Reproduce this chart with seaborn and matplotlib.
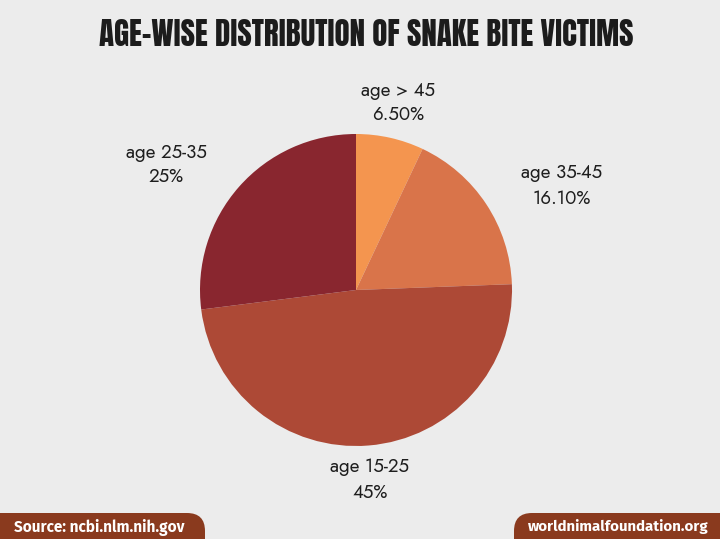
import matplotlib
matplotlib.use("Agg")
import matplotlib.pyplot as plt
from matplotlib.patches import FancyBboxPatch
import seaborn as sns

# data
age_groups = ["age > 45", "age 35-45", "age 15-25", "age 25-35"]
shares = [6.5, 16.1, 45.0, 25.0]
share_labels = ["6.50%", "16.10%", "45%", "25%"]
slice_colors = ["#f4954f", "#d9744a", "#ad4936", "#89262f"]

sns.set_theme(style="white")
plt.rcParams["font.family"] = ["Jost", "Poppins", "DejaVu Sans"]

W, H = 720, 539
fig = plt.figure(figsize=(7.2, 5.39), dpi=100)
fig.patch.set_facecolor("#ececec")
ax = fig.add_axes([0, 0, 1, 1])

# pie, clockwise from 12 o'clock (shares get normalised, as in the original)
ax.pie(shares, colors=slice_colors, startangle=90, counterclock=False,
       center=(356, H - 290), radius=156, frame=True,
       wedgeprops=dict(linewidth=0))
ax.set_xlim(0, W)
ax.set_ylim(0, H)
ax.set_aspect("equal")
ax.axis("off")

# slice labels (y measured from the top of the picture)
label_pos = [(398, 90), (562, 173), (370, 467), (166, 152)]
for name, pct, (x, y) in zip(age_groups, share_labels, label_pos):
    ax.text(x, H - y, name, ha="center", va="center", fontsize=13.5,
            fontweight="medium", color="#1e1e1e")
    ax.text(x, H - y - 25, pct, ha="center", va="center", fontsize=13.5,
            fontweight="medium", color="#1e1e1e")

# title
ax.text(366, H - 34, "AGE-WISE DISTRIBUTION OF SNAKE BITE VICTIMS",
        ha="center", va="center", fontsize=22.3, color="#1c1c1c",
        family=["Anton", "Bebas Neue", "DejaVu Sans"])

# footer tabs
bar_color = "#8a3a1e"
ax.add_patch(FancyBboxPatch((-40, -40), 245, 66, boxstyle="round,pad=0,rounding_size=18",
                            facecolor=bar_color, edgecolor="none"))
ax.add_patch(FancyBboxPatch((514, -40), 250, 66, boxstyle="round,pad=0,rounding_size=18",
                            facecolor=bar_color, edgecolor="none"))
ax.text(14, H - 527, "Source: ncbi.nlm.nih.gov", ha="left", va="center",
        fontsize=11, fontweight="bold", color="white",
        family=["Fira Sans", "DejaVu Sans"])
ax.text(709, H - 527, "worldnimalfoundation.org", ha="right", va="center",
        fontsize=10.8, fontweight="bold", color="white",
        family=["Fira Sans", "DejaVu Sans"])

fig.savefig("out.png", dpi=100, facecolor=fig.get_facecolor())
